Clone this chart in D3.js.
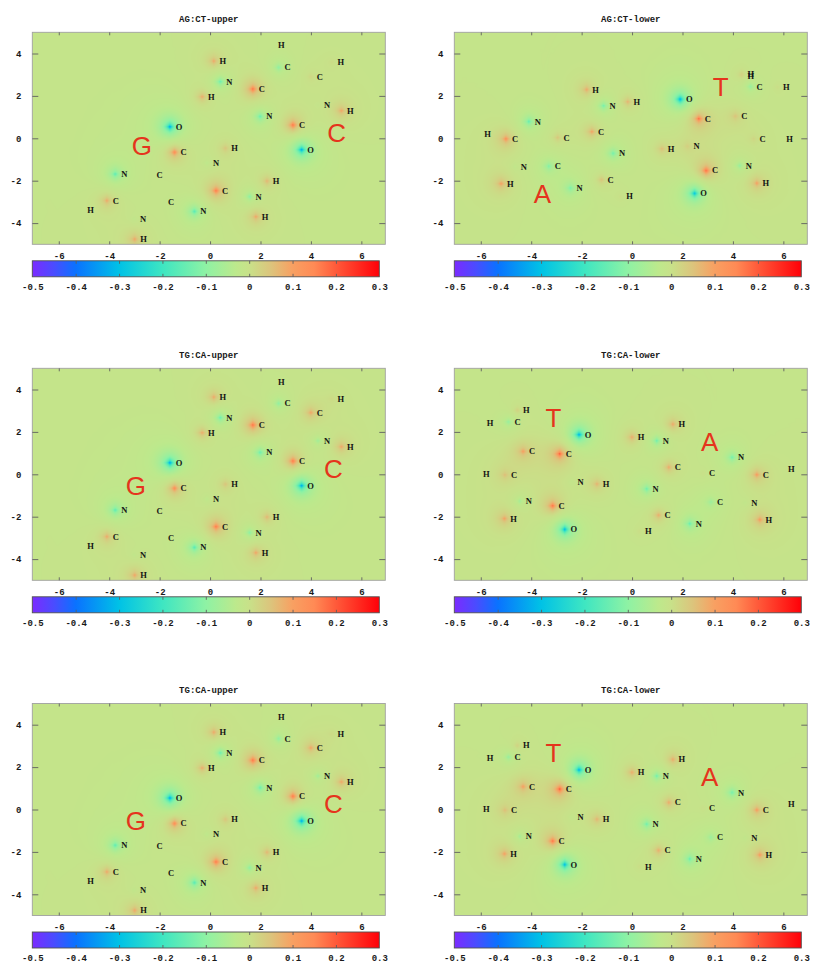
<!DOCTYPE html>
<html>
<head>
<meta charset="utf-8">
<script src="https://cdn.jsdelivr.net/npm/d3@7"></script>
<style>
  body { margin: 0; background: #fff; }
  svg { display: block; }
</style>
</head>
<body>
<svg id="chart" width="814" height="964"></svg>
<script>
// ---- colour bar ----
const colorTicks = [-0.5, -0.4, -0.3, -0.2, -0.1, 0, 0.1, 0.2, 0.3];
const colorStops = [-0.5, -0.45, -0.4, -0.3, -0.2, -0.1, -0.03, 0, 0.05, 0.1, 0.15, 0.2, 0.3];
const colorRange = ["#7b2bff", "#4a4cff", "#0a72ff", "#00c2e6", "#3ee6c2", "#8ef2a4",
                    "#bde98c", "#c8e189", "#dcc47c", "#f8a062", "#ff8a55", "#ff5a3a", "#ff0008"];

// ---- axes ----
const xTicks = [-6, -4, -2, 0, 2, 4, 6];
const yTicks = [-4, -2, 0, 2, 4];
const xDomain = [-7.05, 6.95];
const yDomain = [-5, 5];

// ---- atoms: [element, x, y, partial charge] ----
const agctUpperAtoms = [
  ["H", 2.47, 4.38, 0.0],   ["H", 0.15, 3.64, 0.12],  ["C", 2.72, 3.34, -0.11],
  ["H", 4.83, 3.59, 0.02],  ["C", 4.00, 2.91, 0.03],  ["N", 0.41, 2.67, -0.17],
  ["C", 1.70, 2.32, 0.22],  ["H", -0.31, 1.96, 0.12], ["N", 4.28, 1.57, -0.01],
  ["H", 5.21, 1.30, 0.12],  ["N", 1.99, 1.03, -0.17], ["O", -1.59, 0.54, -0.38],
  ["C", 3.29, 0.62, 0.23],  ["O", 3.63, -0.54, -0.38],["C", -1.41, -0.66, 0.2],
  ["H", 0.61, -0.47, 0.07], ["N", -0.12, -1.17, -0.03],["N", -3.76, -1.69, -0.18],
  ["C", -2.36, -1.72, 0.0], ["H", 2.26, -2.02, 0.1],  ["C", 0.24, -2.47, 0.21],
  ["N", 1.57, -2.75, -0.12],["C", -4.09, -2.94, 0.12],["C", -1.90, -3.02, 0.0],
  ["H", -5.10, -3.37, 0.0], ["N", -0.62, -3.45, -0.2],["N", -3.01, -3.81, -0.02],
  ["H", 1.82, -3.70, 0.12], ["H", -2.99, -4.76, 0.12]
];
const agctLowerAtoms = [
  ["H", 4.35, 3.04, 0.03],  ["H", 4.35, 2.95, 0.03],  ["C", 4.70, 2.44, -0.1],
  ["H", 5.76, 2.41, 0.02],  ["H", -1.80, 2.30, 0.12], ["O", 1.91, 1.84, -0.38],
  ["H", -0.17, 1.72, 0.1],  ["N", -1.13, 1.53, -0.15],["C", 2.65, 0.92, 0.22],
  ["C", 4.10, 1.04, 0.07],  ["N", -4.09, 0.79, -0.17],["H", -6.09, 0.20, 0.0],
  ["C", -5.00, -0.03, 0.17],["C", -2.95, 0.03, 0.07], ["C", -1.59, 0.31, 0.13],
  ["C", 4.82, -0.03, 0.03], ["H", 5.89, -0.03, 0.0],  ["N", -0.75, -0.71, -0.15],
  ["H", 1.19, -0.50, 0.08], ["N", 2.20, -0.38, 0.04], ["N", -4.65, -1.34, -0.02],
  ["C", -3.30, -1.32, -0.12],["N", 4.27, -1.29, -0.1],["C", 2.94, -1.52, 0.24],
  ["H", -5.19, -2.14, 0.13],["H", 4.95, -2.12, 0.13], ["C", -1.21, -1.95, 0.08],
  ["N", -2.44, -2.35, -0.13],["O", 2.48, -2.60, -0.35],["H", -0.46, -2.74, 0.02]
];
const tgcaUpperAtoms = [
  ["H", 2.47, 4.36, 0.0],   ["H", 0.15, 3.64, 0.12],  ["C", 2.72, 3.34, -0.11],
  ["H", 4.83, 3.57, 0.02],  ["C", 4.00, 2.91, 0.12],  ["N", 0.41, 2.67, -0.17],
  ["C", 1.70, 2.32, 0.22],  ["H", -0.31, 1.96, 0.12], ["N", 4.28, 1.58, -0.08],
  ["H", 5.21, 1.30, 0.12],  ["N", 1.99, 1.03, -0.17], ["O", -1.59, 0.54, -0.38],
  ["C", 3.29, 0.62, 0.23],  ["O", 3.63, -0.54, -0.38],["C", -1.41, -0.66, 0.2],
  ["H", 0.61, -0.47, 0.07], ["N", -0.12, -1.17, -0.03],["N", -3.76, -1.69, -0.18],
  ["C", -2.36, -1.72, 0.0], ["H", 2.26, -2.02, 0.1],  ["C", 0.24, -2.47, 0.21],
  ["N", 1.57, -2.75, -0.12],["C", -4.09, -2.94, 0.12],["C", -1.90, -3.02, 0.0],
  ["H", -5.10, -3.37, 0.0], ["N", -0.62, -3.45, -0.2],["N", -3.01, -3.81, -0.02],
  ["H", 1.82, -3.70, 0.12], ["H", -2.99, -4.76, 0.12]
];
const tgcaLowerAtoms = [
  ["H", -4.55, 3.02, 0.05], ["H", -5.99, 2.44, 0.0],  ["C", -4.90, 2.47, -0.1],
  ["O", -2.10, 1.87, -0.38],["H", 1.62, 2.36, 0.12],  ["H", 0.00, 1.75, 0.12],
  ["N", 0.98, 1.58, -0.15], ["C", -4.32, 1.08, 0.13], ["C", -2.87, 0.96, 0.25],
  ["N", 3.97, 0.80, -0.15], ["C", 1.46, 0.33, 0.12],  ["H", 5.96, 0.24, 0.0],
  ["H", -6.14, 0.00, 0.0],  ["C", -5.04, -0.03, 0.07],["C", 2.82, 0.05, 0.02],
  ["C", 4.95, -0.02, 0.14], ["N", -2.40, -0.36, -0.02],["H", -1.39, -0.46, 0.1],
  ["N", 0.58, -0.69, -0.15],["N", -4.45, -1.27, -0.08],["C", -3.15, -1.49, 0.22],
  ["C", 3.13, -1.31, -0.08],["N", 4.49, -1.34, -0.02],["C", 1.05, -1.93, 0.12],
  ["H", -5.06, -2.09, 0.13],["H", 5.07, -2.14, 0.14], ["N", 2.29, -2.33, -0.15],
  ["O", -2.67, -2.60, -0.36],["H", 0.29, -2.69, 0.02]
];

// ---- base letters: [letter, x, y] ----
const agctUpperBases = [["G", -2.70, -0.36], ["C", 5.02, 0.27]];
const agctLowerBases = [["T", 3.52, 2.43], ["A", -3.56, -2.60]];
const tgcaUpperBases = [["G", -2.94, -0.54], ["C", 4.89, 0.27]];
const tgcaLowerBases = [["T", -3.12, 2.67], ["A", 3.08, 1.54]];

const panelTitles = ["AG:CT-upper", "AG:CT-lower", "TG:CA-upper", "TG:CA-lower", "TG:CA-upper", "TG:CA-lower"];
const panelAtoms = [agctUpperAtoms, agctLowerAtoms, tgcaUpperAtoms, tgcaLowerAtoms, tgcaUpperAtoms, tgcaLowerAtoms];
const panelBases = [agctUpperBases, agctLowerBases, tgcaUpperBases, tgcaLowerBases, tgcaUpperBases, tgcaLowerBases];

// ---- layout ----
const plotW = 353, plotH = 212, cbW = 347, cbH = 16;
const colX = [32.3, 454.3];
const rowY = [32.3, 368.3, 703.5];

const svg = d3.select("#chart");
const monoFont = "'Liberation Mono', 'DejaVu Sans Mono', monospace";

const color = d3.scaleLinear().domain(colorStops).range(colorRange)
  .interpolate(d3.interpolateRgb).clamp(true);

// lookup table for the potential map
const vMin = colorTicks[0], vMax = colorTicks[colorTicks.length - 1];
const lutN = 1024;
const lut = new Uint8ClampedArray(lutN * 3);
for (let i = 0; i < lutN; i++) {
  const c = d3.rgb(color(vMin + (vMax - vMin) * i / (lutN - 1)));
  lut[i * 3] = c.r; lut[i * 3 + 1] = c.g; lut[i * 3 + 2] = c.b;
}

// electrostatic potential map from the atomic partial charges
const mapCache = new Map();
function potentialMap(atoms, x, y) {
  if (mapCache.has(atoms)) return mapCache.get(atoms);
  const w = plotW, h = plotH;
  const cv = document.createElement("canvas");
  cv.width = w; cv.height = h;
  const ctx = cv.getContext("2d");
  const img = ctx.createImageData(w, h);
  const pts = atoms.map(a => [x(a[1]) - x.range()[0], y(a[2]) - y.range()[1], a[3]]);
  const p = 0.8;
  for (let j = 0; j < h; j++) {
    for (let i = 0; i < w; i++) {
      const px = i + 0.5, py = j + 0.5;
      let v = -0.01;
      for (const [ax, ay, q] of pts) {
        if (q === 0) continue;
        const dx = Math.abs(px - ax), dy = Math.abs(py - ay);
        const re = Math.sqrt(dx * dx + dy * dy);
        if (re > 140) continue;
        let k = 0.4 * Math.exp(-re / 7) + 0.1 * Math.exp(-re / 30);
        if (re < 25) {
          const rs = Math.pow(Math.pow(dx, p) + Math.pow(dy, p), 1 / p);
          k += 0.5 * Math.exp(-rs / 2.5);
        }
        v += q * k;
      }
      let t = Math.round((v - vMin) / (vMax - vMin) * (lutN - 1));
      t = Math.max(0, Math.min(lutN - 1, t));
      const o = (j * w + i) * 4;
      img.data[o] = lut[t * 3];
      img.data[o + 1] = lut[t * 3 + 1];
      img.data[o + 2] = lut[t * 3 + 2];
      img.data[o + 3] = 255;
    }
  }
  ctx.putImageData(img, 0, 0);
  const url = cv.toDataURL();
  mapCache.set(atoms, url);
  return url;
}

// colour bar gradient
const defs = svg.append("defs");
const grad = defs.append("linearGradient").attr("id", "cbGrad")
  .attr("x1", "0%").attr("x2", "100%").attr("y1", "0%").attr("y2", "0%");
colorStops.forEach(s => {
  grad.append("stop")
    .attr("offset", ((s - vMin) / (vMax - vMin) * 100) + "%")
    .attr("stop-color", color(s));
});

panelTitles.forEach((title, idx) => {
  const x0 = colX[idx % 2], y0 = rowY[Math.floor(idx / 2)];
  const x = d3.scaleLinear().domain(xDomain).range([x0, x0 + plotW]);
  const y = d3.scaleLinear().domain(yDomain).range([y0 + plotH, y0]);
  const g = svg.append("g");

  // potential map
  g.append("image")
    .attr("href", potentialMap(panelAtoms[idx], x, y))
    .attr("x", x0).attr("y", y0)
    .attr("width", plotW).attr("height", plotH)
    .attr("preserveAspectRatio", "none");

  // frame
  g.append("rect").attr("x", x0).attr("y", y0).attr("width", plotW).attr("height", plotH)
    .attr("fill", "none").attr("stroke", "#a0a0a0").attr("stroke-width", 0.9);

  // inward tick marks
  const tickStyle = sel => {
    sel.select(".domain").remove();
    sel.selectAll(".tick line").attr("stroke", "#606060").attr("stroke-width", 0.9);
  };
  g.append("g").attr("transform", `translate(0,${y0})`)
    .call(d3.axisBottom(x).tickValues(xTicks).tickSize(3).tickFormat("")).call(tickStyle);
  g.append("g").attr("transform", `translate(0,${y0 + plotH})`)
    .call(d3.axisTop(x).tickValues(xTicks).tickSize(3).tickFormat("")).call(tickStyle);
  g.append("g").attr("transform", `translate(${x0},0)`)
    .call(d3.axisRight(y).tickValues(yTicks).tickSize(6).tickFormat("")).call(tickStyle);
  g.append("g").attr("transform", `translate(${x0 + plotW},0)`)
    .call(d3.axisLeft(y).tickValues(yTicks).tickSize(6).tickFormat("")).call(tickStyle);

  // tick labels
  const labelStyle = sel => {
    sel.select(".domain").remove();
    sel.selectAll(".tick line").remove();
    sel.selectAll(".tick text").attr("font-family", monoFont).attr("font-size", 9)
      .attr("font-weight", "bold").attr("fill", "#1a1a1a");
  };
  g.append("g").attr("transform", `translate(0,${y0 + plotH})`)
    .call(d3.axisBottom(x).tickValues(xTicks).tickSize(0).tickPadding(8).tickFormat(d => String(d)))
    .call(labelStyle);
  g.append("g").attr("transform", `translate(${x0},0)`)
    .call(d3.axisLeft(y).tickValues(yTicks).tickSize(0).tickPadding(11).tickFormat(d => String(d)))
    .call(labelStyle);

  // title
  g.append("text").attr("x", x0 + plotW / 2).attr("y", y0 - 10.5)
    .attr("text-anchor", "middle").attr("font-family", monoFont)
    .attr("font-size", 9).attr("font-weight", "bold").attr("fill", "#1a1a1a")
    .text(title);

  // atom labels
  g.selectAll("text.atom").data(panelAtoms[idx]).enter().append("text")
    .attr("class", "atom")
    .attr("x", d => x(d[1]) + 9).attr("y", d => y(d[2]))
    .attr("dy", "0.35em").attr("text-anchor", "middle")
    .attr("font-family", "'Liberation Serif', 'DejaVu Serif', serif")
    .attr("font-size", 8.5).attr("font-weight", "bold").attr("fill", "#141414")
    .text(d => d[0]);

  // base letters
  g.selectAll("text.base").data(panelBases[idx]).enter().append("text")
    .attr("class", "base")
    .attr("x", d => x(d[1])).attr("y", d => y(d[2]))
    .attr("dy", "0.36em").attr("text-anchor", "middle")
    .attr("font-family", "'Liberation Sans', Arial, sans-serif")
    .attr("font-size", 26).attr("fill", "#e5341d")
    .text(d => d[0]);

  // colour bar
  const cbY = y0 + plotH + 16.5;
  const cx = d3.scaleLinear().domain([vMin, vMax]).range([x0, x0 + cbW]);
  g.append("rect").attr("x", x0).attr("y", cbY).attr("width", cbW).attr("height", cbH)
    .attr("fill", "url(#cbGrad)").attr("stroke", "#505050").attr("stroke-width", 0.9);
  g.append("g").attr("transform", `translate(0,${cbY})`)
    .call(d3.axisBottom(cx).tickValues(colorTicks.slice(1, -1)).tickSize(3).tickFormat(""))
    .call(tickStyle);
  g.append("g").attr("transform", `translate(0,${cbY + cbH})`)
    .call(d3.axisTop(cx).tickValues(colorTicks.slice(1, -1)).tickSize(3).tickFormat(""))
    .call(tickStyle);
  g.append("g").attr("transform", `translate(0,${cbY + cbH})`)
    .call(d3.axisBottom(cx).tickValues(colorTicks).tickSize(0).tickPadding(7).tickFormat(d => String(d)))
    .call(labelStyle);
});
</script>
</body>
</html>
